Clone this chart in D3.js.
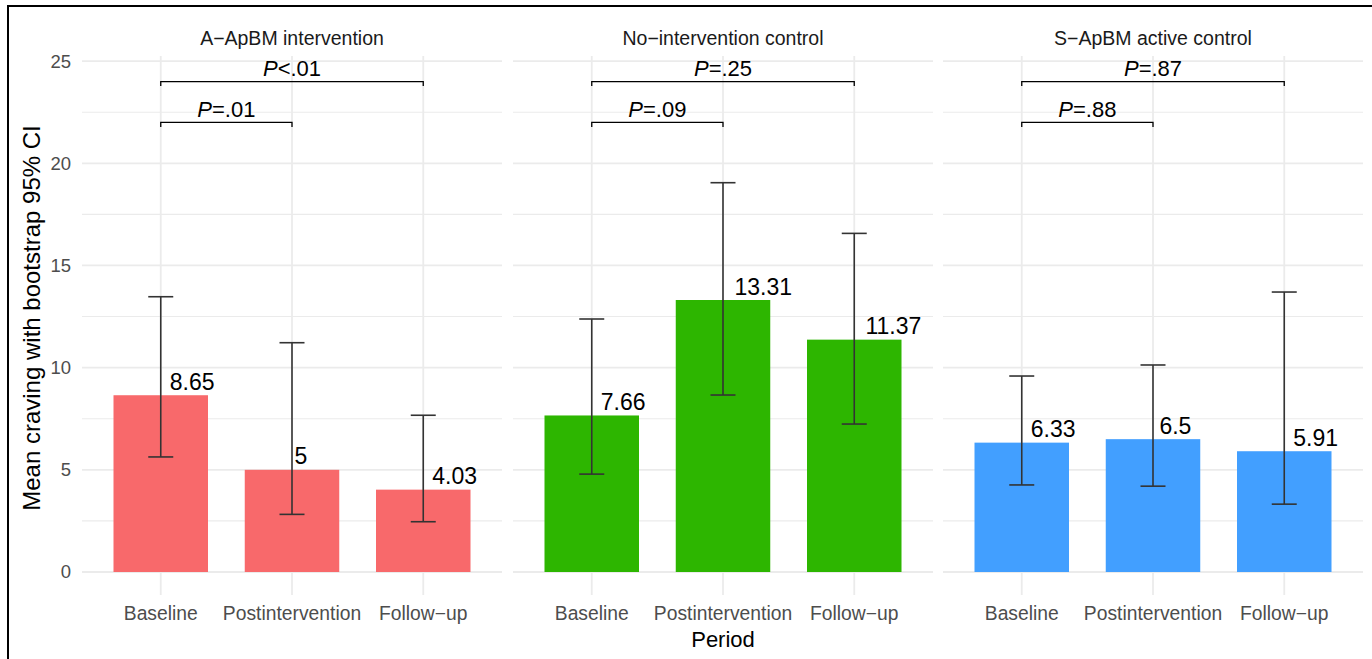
<!DOCTYPE html>
<html>
<head>
<meta charset="utf-8">
<script src="https://cdn.jsdelivr.net/npm/d3@7"></script>
<style>
  body { margin: 0; background: #fff; }
  svg { display: block; font-family: "Liberation Sans", Arial, sans-serif; }
</style>
</head>
<body>
<svg id="chart" width="1372" height="659"></svg>
<script>
// data
var groups = ["A\u2212ApBM intervention", "No\u2212intervention control", "S\u2212ApBM active control"];
var periods = ["Baseline", "Postintervention", "Follow\u2212up"];
var colors = ["#F8696B", "#2DB600", "#429FFF"];
var means = [[8.65, 5, 4.03], [7.66, 13.31, 11.37], [6.33, 6.5, 5.91]];
var ciLow = [[5.63, 2.82, 2.46], [4.79, 8.66, 7.24], [4.26, 4.2, 3.32]];
var ciHigh = [[13.47, 11.22, 7.67], [12.38, 19.05, 16.57], [9.59, 10.13, 13.7]];
var pOuter = [["<", ".01"], ["=", ".25"], ["=", ".87"]];   // Baseline vs Follow-up
var pInner = [["=", ".01"], ["=", ".09"], ["=", ".88"]];   // Baseline vs Postintervention
var yTicks = [0, 5, 10, 15, 20, 25];
var yMinor = [2.5, 7.5, 12.5, 17.5, 22.5];

function drawChart() {
  var svg = d3.select("#chart");

  // set the dimensions of each facet panel
  var panelLeft = [82, 513, 943];
  var panelW = 420;
  var panelTop = 56, panelBottom = 572;

  var yScale = d3.scaleLinear()
    .domain([0, 25.25])
    .range([panelBottom, panelTop]);

  var gridColor = "#ebebeb";

  // y tick labels
  svg.append("g")
    .selectAll("text")
    .data(yTicks)
    .enter()
    .append("text")
      .attr("x", 71)
      .attr("y", function(d) { return yScale(d); })
      .attr("dy", "0.35em")
      .attr("text-anchor", "end")
      .attr("fill", "#4d4d4d")
      .style("font-size", "18.5px")
      .text(function(d) { return d; });

  groups.forEach(function(g, gi) {
    var xScale = d3.scalePoint()
      .domain(periods)
      .range([panelLeft[gi], panelLeft[gi] + panelW])
      .padding(0.6);
    var barW = xScale.step() * 0.72;

    var panel = svg.append("g");

    // grid
    panel.selectAll(".minor")
      .data(yMinor)
      .enter()
      .append("line")
        .attr("x1", panelLeft[gi])
        .attr("x2", panelLeft[gi] + panelW)
        .attr("y1", function(d) { return yScale(d); })
        .attr("y2", function(d) { return yScale(d); })
        .attr("stroke", gridColor)
        .attr("stroke-width", 1.1);

    panel.selectAll(".major")
      .data(yTicks)
      .enter()
      .append("line")
        .attr("x1", panelLeft[gi])
        .attr("x2", panelLeft[gi] + panelW)
        .attr("y1", function(d) { return yScale(d); })
        .attr("y2", function(d) { return yScale(d); })
        .attr("stroke", gridColor)
        .attr("stroke-width", 1.8);

    panel.selectAll(".vgrid")
      .data(periods)
      .enter()
      .append("line")
        .attr("x1", function(d) { return xScale(d); })
        .attr("x2", function(d) { return xScale(d); })
        .attr("y1", panelTop)
        .attr("y2", panelBottom + 23)
        .attr("stroke", gridColor)
        .attr("stroke-width", 1.8);

    // strip title
    panel.append("text")
      .attr("x", panelLeft[gi] + panelW / 2)
      .attr("y", 45)
      .attr("text-anchor", "middle")
      .attr("fill", "#1a1a1a")
      .style("font-size", "19.5px")
      .text(g);

    // x tick labels
    panel.selectAll(".xlab")
      .data(periods)
      .enter()
      .append("text")
        .attr("x", function(d) { return xScale(d); })
        .attr("y", 620)
        .attr("text-anchor", "middle")
        .attr("fill", "#4d4d4d")
        .style("font-size", "19.3px")
        .text(function(d) { return d; });

    // bars
    panel.selectAll(".bar")
      .data(periods)
      .enter()
      .append("rect")
        .attr("x", function(d) { return xScale(d) - barW / 2; })
        .attr("y", function(d, i) { return yScale(means[gi][i]); })
        .attr("width", barW)
        .attr("height", function(d, i) { return panelBottom - yScale(means[gi][i]); })
        .attr("fill", colors[gi]);

    // error bars
    var eb = panel.selectAll(".eb")
      .data(periods)
      .enter()
      .append("g")
        .attr("stroke", "#333333")
        .attr("stroke-width", 1.6);
    eb.append("line")
      .attr("x1", function(d) { return xScale(d); })
      .attr("x2", function(d) { return xScale(d); })
      .attr("y1", function(d, i) { return yScale(ciLow[gi][i]); })
      .attr("y2", function(d, i) { return yScale(ciHigh[gi][i]); });
    eb.append("line")
      .attr("x1", function(d) { return xScale(d) - 12.5; })
      .attr("x2", function(d) { return xScale(d) + 12.5; })
      .attr("y1", function(d, i) { return yScale(ciLow[gi][i]); })
      .attr("y2", function(d, i) { return yScale(ciLow[gi][i]); });
    eb.append("line")
      .attr("x1", function(d) { return xScale(d) - 12.5; })
      .attr("x2", function(d) { return xScale(d) + 12.5; })
      .attr("y1", function(d, i) { return yScale(ciHigh[gi][i]); })
      .attr("y2", function(d, i) { return yScale(ciHigh[gi][i]); });

    // value labels, hjust about -0.2
    panel.selectAll(".val")
      .data(periods)
      .enter()
      .append("text")
        .attr("y", function(d, i) { return yScale(means[gi][i]) - 5.5; })
        .attr("fill", "#000")
        .style("font-size", "23px")
        .text(function(d, i) { return means[gi][i]; })
        .attr("x", function(d) {
          return xScale(d) + 0.2 * this.getComputedTextLength();
        });

    // significance brackets
    var brackets = [
      {from: periods[0], to: periods[2], y: 24, p: pOuter[gi]},
      {from: periods[0], to: periods[1], y: 22, p: pInner[gi]}
    ];
    brackets.forEach(function(b) {
      var x1 = xScale(b.from), x2 = xScale(b.to), y = yScale(b.y);
      var yt = yScale(b.y - 0.22);
      panel.append("path")
        .attr("d", "M" + x1 + "," + yt + "V" + y + "H" + x2 + "V" + yt)
        .attr("fill", "none")
        .attr("stroke", "#000")
        .attr("stroke-width", 1.3);
      var t = panel.append("text")
        .attr("x", (x1 + x2) / 2)
        .attr("y", y - 5.5)
        .attr("text-anchor", "middle")
        .style("font-size", "22px");
      t.append("tspan").style("font-style", "italic").text("P");
      t.append("tspan").text(b.p[0] + b.p[1]);
    });
  });

  // axis titles
  svg.append("text")
    .attr("transform", "translate(40,318) rotate(-90)")
    .attr("text-anchor", "middle")
    .style("font-size", "24px")
    .text("Mean craving with bootstrap 95% CI");

  svg.append("text")
    .attr("x", 723)
    .attr("y", 647)
    .attr("text-anchor", "middle")
    .style("font-size", "22px")
    .text("Period");

  // outer frame (left and top edges)
  svg.append("path")
    .attr("d", "M8,659V6H1372")
    .attr("fill", "none")
    .attr("stroke", "#000")
    .attr("stroke-width", 2);
}

drawChart();
</script>
</body>
</html>
